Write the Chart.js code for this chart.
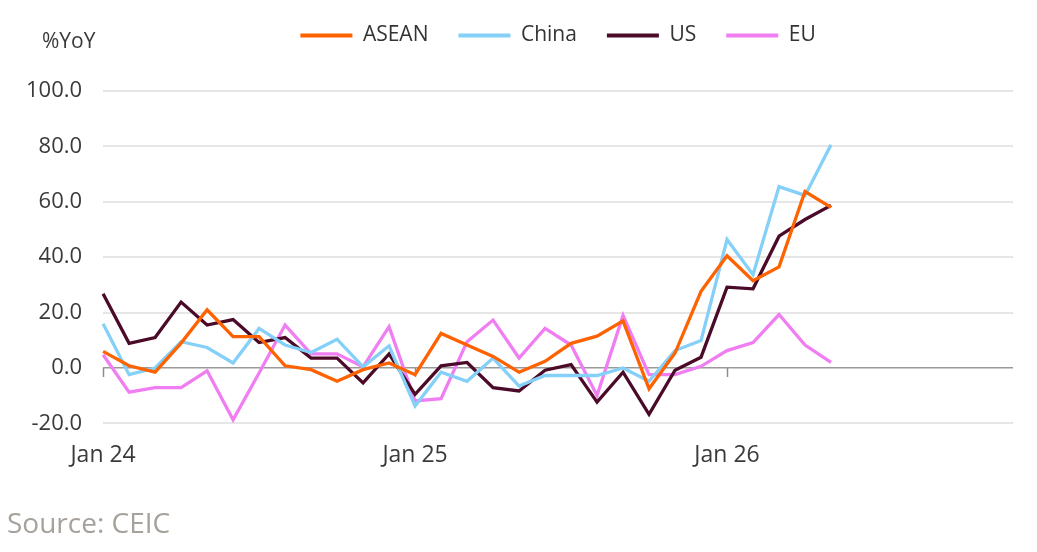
<!DOCTYPE html>
<html>
<head>
<meta charset="utf-8">
<script src="https://cdn.jsdelivr.net/npm/chart.js@4.4.1/dist/chart.umd.min.js"></script>
<style>
  html, body { margin: 0; padding: 0; background: #fff; }
  .wrap { position: relative; width: 1037px; height: 552px; }
  .unit { position: absolute; left: 42px; top: 26px; font: 21px 'Open Sans', sans-serif; color: #3a3a3a; }
  .source { position: absolute; left: 7px; top: 503px; font: 28px 'Open Sans', sans-serif; color: #a7a19b; }
</style>
</head>
<body>
<div class="wrap">
  <canvas id="chart" aria-label="Exports growth by destination" role="img"></canvas>
  <div class="unit">%YoY</div>
  <div class="source">Source: CEIC</div>
</div>
<script>
const months = ['Jan', 'Feb', 'Mar', 'Apr', 'May', 'Jun', 'Jul', 'Aug', 'Sep', 'Oct', 'Nov', 'Dec'];
const years = ['24', '25', '26'];
const labels = [];
years.forEach((y) => months.forEach((m) => labels.push(m + ' ' + y)));

// Jan 24 .. May 26, %YoY
const asean = [6, 0.8, -1.5, 9, 21, 11.3, 11.3, 0.8, -0.6, -4.8, -0.6, 1.8,
  -2.4, 12.5, 8.3, 4.2, -1.5, 2.4, 8.9, 11.5, 17, -7.5, 5.4, 27.7,
  40.5, 31.5, 36.5, 63.7, 58];
const china = [16, -2.4, 0, 9.5, 7.4, 1.8, 14.3, 8.3, 5.6, 10.4, 0.4, 8,
  -13.7, -1.5, -4.8, 3.6, -6.5, -2.7, -2.7, -2.7, 0, -4.8, 6.3, 9.9,
  46.4, 33.7, 65.5, 62.3, 80.6];
const us = [26.8, 8.9, 11, 23.8, 15.5, 17.5, 9.2, 11, 3.6, 3.6, -5.4, 5.1,
  -9.5, 0.8, 2, -7.1, -8.3, -0.8, 1.2, -12.3, -1.5, -16.7, -0.8, 3.9,
  29.2, 28.6, 47.6, 53.6, 58.7];
const eu = [4.8, -8.7, -7.1, -7.1, -1, -18.7, -1.8, 15.5, 5.1, 5.1, 0.4, 14.9,
  -11.9, -11.1, 9.5, 17.3, 3.6, 14.3, 8.3, -9.9, 19, -2.4, -2.4, 0.6,
  6.3, 9.2, 19.3, 8.3, 2];

const seriesNames = ['ASEAN', 'China', 'US', 'EU'];
const seriesColors = ['#ff6200', '#84d0f8', '#4b0a28', '#f07ef2'];
const yTicks = [-20, 0, 20, 40, 60, 80, 100];

const FONT = "'Open Sans', sans-serif";

// small year tick marks hanging off the zero line
const zeroTicks = {
  id: 'zeroTicks',
  beforeDatasetsDraw(chart) {
    const { ctx, scales: { x, y } } = chart;
    const y0 = y.getPixelForValue(0);
    ctx.save();
    ctx.strokeStyle = '#8c8c8c';
    ctx.lineWidth = 1.5;
    labels.forEach((l, i) => {
      if (i % 12 !== 0) return;
      const px = Math.round(x.getPixelForValue(i)) + 0.5;
      ctx.beginPath();
      ctx.moveTo(px, y0);
      ctx.lineTo(px, y0 + 9);
      ctx.stroke();
    });
    ctx.restore();
  },
};

new Chart(document.getElementById('chart'), {
  type: 'line',
  data: {
    labels,
    datasets: [asean, china, us, eu].map((d, i) => ({
      label: seriesNames[i],
      data: d,
      borderColor: seriesColors[i],
      backgroundColor: seriesColors[i],
      borderWidth: 3.3,
      pointRadius: 0,
      tension: 0,
    })),
  },
  options: {
    responsive: true,
    maintainAspectRatio: false,
    animation: false,
    layout: { padding: { top: -5, left: 5, right: 24, bottom: 65 } },
    plugins: {
      legend: {
        position: 'top',
        align: 'center',
        fullSize: false,
        labels: {
          boxWidth: 52,
          boxHeight: 4,
          padding: 30,
          color: '#333',
          font: { family: FONT, size: 21 },
          generateLabels(chart) {
            return Chart.defaults.plugins.legend.labels.generateLabels(chart).map((l) => ({ ...l, lineWidth: 0 }));
          },
        },
      },
      tooltip: { enabled: false },
    },
    scales: {
      x: {
        grid: { display: false, drawTicks: false },
        border: { display: false },
        ticks: {
          autoSkip: false,
          maxRotation: 0,
          padding: 18,
          color: '#3a3a3a',
          font: { family: FONT, size: 23 },
          callback: (v, i) => (i % 12 === 0 ? labels[i] : ''),
        },
      },
      xPad: {
        position: 'top',
        grid: { display: false, drawTicks: false },
        border: { display: false },
        ticks: { display: false },
        afterFit: (s) => { s.height = 35; },
      },
      y: {
        min: -20,
        max: 100,
        afterBuildTicks: (s) => { s.ticks = yTicks.map((v) => ({ value: v })); },
        border: { display: false },
        grid: {
          drawTicks: false,
          color: (c) => (c.tick && c.tick.value === 0 ? '#9a9a9a' : '#e6e6e6'),
          lineWidth: (c) => (c.tick && c.tick.value === 0 ? 1.5 : 2),
        },
        ticks: {
          padding: 21,
          color: '#3a3a3a',
          font: { family: FONT, size: 22 },
          callback: (v) => Number(v).toFixed(1),
        },
      },
    },
  },
  plugins: [zeroTicks],
});
</script>
</body>
</html>
